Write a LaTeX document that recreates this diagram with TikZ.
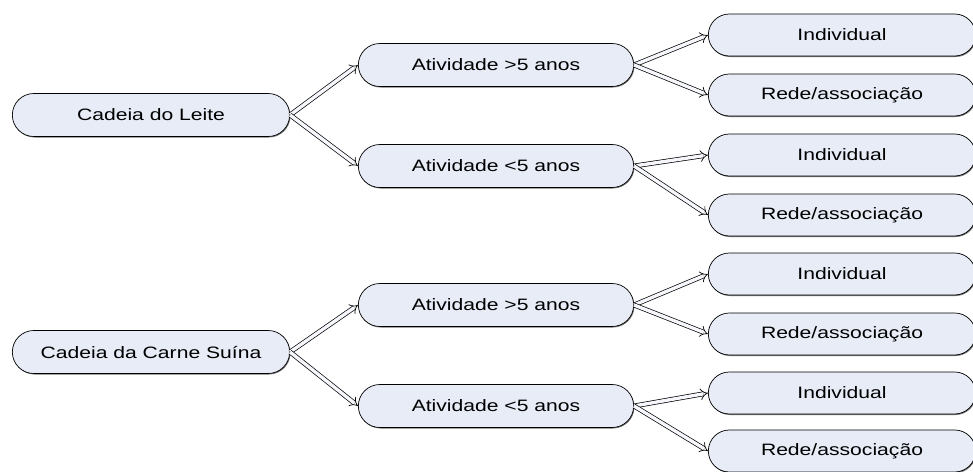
\documentclass[tikz,border=0pt]{standalone}
\usepackage{fontspec}
\setmainfont{Liberation Sans}[FakeStretch=1.28]
\usetikzlibrary{arrows.meta, shadows, shapes.misc}

\definecolor{boxfill}{HTML}{E7ECF7}

\begin{document}
\begin{tikzpicture}[
  x=1pt, y=-1pt,
  stage/.style={rounded rectangle, draw, line width=0.7pt, fill=boxfill, align=center,
    font=\fontsize{16.5}{18}\selectfont, minimum width=284pt, minimum height=43pt,
    drop shadow={shadow xshift=0.8pt, shadow yshift=-1pt, fill=black, opacity=0.55}},
  option/.style={stage, minimum width=274pt, minimum height=42pt},
  arrow/.style={double=boxfill!40, double distance=3.4pt, line width=0.7pt, -Implies}
]
\useasboundingbox (0,0) rectangle (973,471);

% main chains
\node[stage] (leite) at (151,115) {Cadeia do Leite};
\node[stage] (suina) at (151,352) {Cadeia da Carne Suína};

% time in activity
\node[stage, minimum width=282pt] (leiteMais) at (496,65) {Atividade >5 anos};
\node[stage, minimum width=282pt] (leiteMenos) at (496,166) {Atividade <5 anos};
\node[stage, minimum width=282pt] (suinaMais) at (496,305) {Atividade >5 anos};
\node[stage, minimum width=282pt] (suinaMenos) at (496,406) {Atividade <5 anos};

% kind of organisation
\node[option] (leiteMaisInd) at (842,35) {Individual};
\node[option] (leiteMaisRede) at (842,95) {Rede/associação};
\node[option] (leiteMenosInd) at (842,155) {Individual};
\node[option] (leiteMenosRede) at (842,215) {Rede/associação};
\node[option] (suinaMaisInd) at (842,274) {Individual};
\node[option] (suinaMaisRede) at (842,334) {Rede/associação};
\node[option] (suinaMenosInd) at (842,393) {Individual};
\node[option] (suinaMenosRede) at (842,451) {Rede/associação};

\draw[arrow] (leite.east) -- (leiteMais.west);
\draw[arrow] (leite.east) -- (leiteMenos.west);
\draw[arrow] (suina.east) -- (suinaMais.west);
\draw[arrow] (suina.east) -- (suinaMenos.west);

\draw[arrow] (leiteMais.east) -- (leiteMaisInd.west);
\draw[arrow] (leiteMais.east) -- (leiteMaisRede.west);
\draw[arrow] (leiteMenos.east) -- (leiteMenosInd.west);
\draw[arrow] (leiteMenos.east) -- (leiteMenosRede.west);
\draw[arrow] (suinaMais.east) -- (suinaMaisInd.west);
\draw[arrow] (suinaMais.east) -- (suinaMaisRede.west);
\draw[arrow] (suinaMenos.east) -- (suinaMenosInd.west);
\draw[arrow] (suinaMenos.east) -- (suinaMenosRede.west);
\end{tikzpicture}
\end{document}
